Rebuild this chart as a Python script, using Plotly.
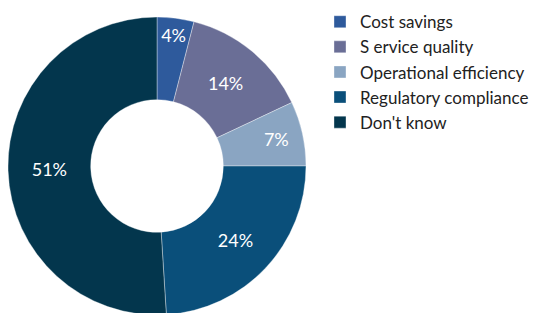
import plotly.graph_objects as go

categories = ["Cost savings", "S ervice quality", "Operational efficiency", "Regulatory compliance", "Don't know"]
values = [4, 14, 7, 24, 51]
colors = ["#2E5A9C", "#6A6E96", "#8AA5C2", "#0A4F7A", "#03364D"]

fig = go.Figure(go.Pie(
    labels=categories,
    values=values,
    hole=0.445,
    sort=False,
    direction="clockwise",
    rotation=0,
    marker=dict(colors=colors, line=dict(color="rgba(255,255,255,0.6)", width=0.6)),
    texttemplate="%{value}%",
    textposition="inside",
    insidetextorientation="horizontal",
    insidetextfont=dict(color="white", size=18, family="Lato"),
    domain=dict(x=[0, 298/537], y=[0, 1]),
    hoverinfo="label+percent",
))

fig.update_layout(
    width=537, height=313,
    margin=dict(l=0, r=0, t=9, b=6, autoexpand=False),
    paper_bgcolor="white",
    plot_bgcolor="white",
    font=dict(family="Lato", size=17, color="#222222"),
    legend=dict(
        x=0.581, y=1.043, xanchor="left", yanchor="top",
        font=dict(family="Lato", size=17, color="#222222"),
        itemclick=False, tracegroupgap=0,
    ),
    showlegend=True,
)

fig.write_html("out.html")
